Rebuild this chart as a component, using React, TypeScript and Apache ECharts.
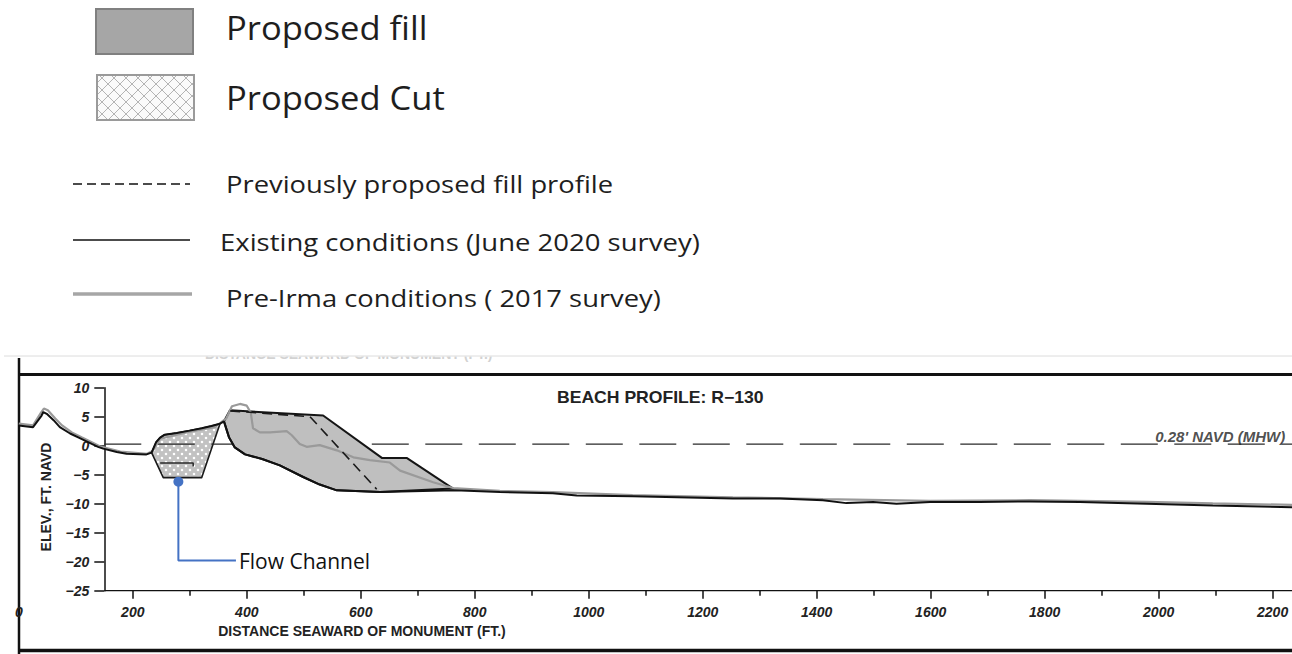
import { useEffect, useRef } from "react";
import * as echarts from "echarts";

// Beach profile R-130: distance seaward of monument (ft) vs elevation (ft NAVD)
const existing2020: [number, number][] = [
  [0, 3.5], [25, 3.2], [40, 5.2], [43, 5.8], [49, 5.5], [61, 4.4], [72, 3.2], [90, 2.1],
  [107, 1.3], [128, 0.3], [139, -0.2], [148, -0.5], [172, -1.1], [189, -1.4], [224, -1.5],
  [233, -1.2], [241, 0.6], [248, 1.4], [256, 1.9], [277, 2.2], [300, 2.6], [321, 3.0],
  [338, 3.4], [353, 3.8], [360, 4.2], [369, 1.4], [379, -0.3], [397, -1.5], [427, -2.3],
  [458, -3.4], [499, -5.4], [528, -6.7], [558, -7.7], [634, -8.0], [765, -7.7], [844, -8.0],
  [937, -8.2], [979, -8.6], [1077, -8.7], [1253, -9.1], [1336, -9.1], [1411, -9.4],
  [1452, -9.9], [1499, -9.7], [1540, -10.0], [1599, -9.7], [1686, -9.7], [1774, -9.6],
  [1862, -9.7], [1979, -10.0], [2095, -10.3], [2234, -10.6],
];

const preIrma2017: [number, number][] = [
  [0, 3.8], [25, 3.5], [39, 5.7], [44, 6.4], [51, 6.1], [64, 4.7], [76, 3.5], [93, 2.3],
  [111, 1.4], [128, 0.6], [142, -0.1], [178, -1.0], [225, -1.4], [235, -0.9], [248, 1.2],
  [300, 2.4], [344, 3.2], [364, 4.7], [374, 6.8], [388, 7.2], [400, 6.9], [407, 5.7],
  [411, 3.0], [423, 2.3], [441, 2.3], [470, 2.5], [479, 1.8], [493, 0.3], [505, -0.2],
  [528, 0.1], [558, -0.8], [587, -2.0], [616, -2.5], [651, -2.9], [669, -4.3], [727, -6.3],
  [762, -7.3], [844, -7.8], [937, -8.0], [1077, -8.5], [1253, -8.9], [1411, -9.2],
  [1599, -9.5], [1774, -9.4], [1979, -9.7], [2095, -9.95], [2234, -10.2],
];

const proposedFill: [number, number][] = [
  [360, 4.2], [370.5, 6.1], [534, 5.2], [637, -2.1], [680.5, -2.1], [762, -7.4], [634, -8.0],
  [558, -7.7], [528, -6.7], [499, -5.4], [458, -3.4], [427, -2.3], [397, -1.5], [379, -0.3],
  [369, 1.4],
];

const proposedCut: [number, number][] = [
  [233, -1.2], [241, 0.6], [248, 1.4], [256, 1.9], [277, 2.2], [300, 2.6], [321, 3.0],
  [338, 3.4], [353, 3.8], [321, -5.5], [253.5, -5.5],
];

const previousFill: [number, number][] = [[371, 6.0], [511, 5.0], [628, -7.5]];
const channelStep: [number, number][] = [[248, -3.0], [306, -3.0], [306, -3.6]];

const mhwLevel = 0.28;
const mhwStart = 150;
const mhwEnd = 2234;
const mhwLabelAt = 1994;
const mhwLabel = "0.28' NAVD (MHW)";

const flowChannel: [number, number][] = [[280, -6.2], [280, -19.8], [381, -19.8]];

const xMin = 0;
const xMax = 2234;
const yMin = -25;
const yMax = 10;
const yStep = 5;
const xMajorTicks = [200, 400, 600, 800, 1000, 1200, 1400, 1600, 1800, 2000, 2200];
const xMinorTicks = [300, 500, 700, 900, 1100, 1300, 1500, 1700, 1900, 2100];
const xTickLabels = [0, 200, 400, 600, 800, 1000, 1200, 1400, 1600, 1800, 2000, 2200];

const CAD_FONT = '"Liberation Sans", Arial, sans-serif';
const TEXT_FONT = '"Open Sans", "Noto Sans", sans-serif';

function dotPattern() {
  const c = document.createElement("canvas");
  c.width = 8;
  c.height = 8;
  const g = c.getContext("2d")!;
  g.fillStyle = "#c2c2c2";
  g.fillRect(0, 0, 8, 8);
  g.fillStyle = "#ffffff";
  g.beginPath();
  g.arc(2, 2, 1.3, 0, Math.PI * 2);
  g.arc(6, 6, 1.3, 0, Math.PI * 2);
  g.fill();
  return { image: c.toDataURL(), repeat: "repeat", imageWidth: 8, imageHeight: 8 };
}

function latticePattern() {
  const c = document.createElement("canvas");
  c.width = 12;
  c.height = 12;
  const g = c.getContext("2d")!;
  g.fillStyle = "#fafafa";
  g.fillRect(0, 0, 12, 12);
  g.strokeStyle = "#b4b4b4";
  g.lineWidth = 1;
  g.beginPath();
  g.moveTo(0, 0);
  g.lineTo(12, 12);
  g.moveTo(12, 0);
  g.lineTo(0, 12);
  g.stroke();
  return { image: c.toDataURL(), repeat: "repeat", imageWidth: 12, imageHeight: 12 };
}

function polygonSeries(name: string, pts: [number, number][], style: any, z: number) {
  return {
    type: "custom",
    name,
    coordinateSystem: "cartesian2d",
    silent: true,
    z,
    data: [pts[0]],
    renderItem: (_params: any, api: any) => ({
      type: "polygon",
      shape: { points: pts.map((p) => api.coord(p)) },
      style,
    }),
  };
}

function lineSeries(name: string, data: any[], lineStyle: any, z: number) {
  return {
    type: "line",
    name,
    data,
    z,
    silent: true,
    symbol: "none",
    showSymbol: false,
    lineStyle,
  };
}

const yLabel = (v: number) => (v < 0 ? "\u2212" + Math.abs(v) : String(v));

export default function App() {
  const ref = useRef<HTMLDivElement>(null);

  useEffect(() => {
    const chart = echarts.init(ref.current!, null, { renderer: "svg" });
    const cutFill = dotPattern();
    const cutKey = latticePattern();

    const axisLabelStyle = {
      fontFamily: CAD_FONT,
      fontStyle: "italic",
      fontWeight: "bold",
      fontSize: 14,
      color: "#222",
    };

    const legendText = (text: string, x: number, y: number, size: number, sx: number) => ({
      type: "text",
      x,
      y,
      scaleX: sx,
      style: { text, fontFamily: TEXT_FONT, fontSize: size, fill: "#1e1e1e", textVerticalAlign: "middle" },
    });

    chart.setOption({
      animation: false,
      backgroundColor: "#ffffff",
      grid: { left: 18.8, top: 387.7, width: 1273.4, height: 203 },
      xAxis: [
        {
          type: "value",
          min: xMin,
          max: xMax,
          position: "bottom",
          splitLine: { show: false },
          axisLine: { show: false, onZero: false },
          axisTick: {
            show: true,
            customValues: xMajorTicks,
            length: 8,
            lineStyle: { color: "#111", width: 1.5 },
          },
          axisLabel: {
            customValues: xTickLabels,
            margin: 14,
            formatter: (v: number) => String(v),
            ...axisLabelStyle,
          },
        },
        {
          type: "value",
          min: xMin,
          max: xMax,
          position: "bottom",
          splitLine: { show: false },
          axisLine: { show: false, onZero: false },
          axisLabel: { show: false },
          axisTick: {
            show: true,
            customValues: xMinorTicks,
            length: 5,
            lineStyle: { color: "#111", width: 1.5 },
          },
        },
      ],
      yAxis: {
        type: "value",
        min: yMin,
        max: yMax,
        interval: yStep,
        position: "left",
        offset: -85.5,
        splitLine: { show: false },
        axisLine: { show: true, onZero: false, lineStyle: { color: "#111", width: 1.5 } },
        axisTick: { show: true, length: 10, lineStyle: { color: "#111", width: 1.5 } },
        axisLabel: { margin: 15, formatter: yLabel, ...axisLabelStyle },
      },
      series: [
        polygonSeries("Proposed Cut", proposedCut, { fill: cutFill, stroke: "#1a1a1a", lineWidth: 1.6, lineJoin: "round" }, 1),
        lineSeries("MHW", [[mhwStart, mhwLevel], [mhwEnd, mhwLevel]], { color: "#2a2a2a", width: 1.4, type: [37, 16.5] }, 2),
        polygonSeries("Proposed fill", proposedFill, { fill: "#bfbfbf", stroke: "#151515", lineWidth: 2, lineJoin: "round" }, 3),
        lineSeries("Pre-Irma conditions ( 2017 survey)", preIrma2017, { color: "#9a9a9a", width: 2.2 }, 4),
        lineSeries("Existing conditions (June 2020 survey)", existing2020, { color: "#111", width: 2 }, 5),
        lineSeries("Previously proposed fill profile", previousFill, { color: "#1a1a1a", width: 1.6, type: [10, 6] }, 6),
        lineSeries("channel step", channelStep, { color: "#2a2a2a", width: 1.5 }, 6),
        lineSeries("x axis", [[150, yMin], [xMax, yMin]], { color: "#111", width: 1.5 }, 6),
        {
          type: "scatter",
          name: "MHW label",
          silent: true,
          z: 7,
          symbolSize: 0,
          data: [[mhwLabelAt, mhwLevel]],
          label: {
            show: true,
            formatter: mhwLabel,
            position: [0, 0],
            align: "left",
            verticalAlign: "bottom",
            offset: [0, 0],
            fontFamily: CAD_FONT,
            fontStyle: "italic",
            fontWeight: "bold",
            fontSize: 15,
            color: "#222",
          },
        },
        {
          type: "line",
          name: "Flow Channel",
          silent: true,
          z: 8,
          lineStyle: { color: "#4472c4", width: 2 },
          itemStyle: { color: "#4472c4" },
          showSymbol: true,
          data: [
            { value: flowChannel[0], symbol: "circle", symbolSize: 10 },
            { value: flowChannel[1], symbol: "none" },
            {
              value: flowChannel[2],
              symbol: "circle",
              symbolSize: 0,
              label: {
                show: true,
                position: "right",
                distance: 3,
                formatter: "Flow Channel",
                fontFamily: TEXT_FONT,
                fontSize: 21,
                color: "#111",
              },
            },
          ],
        },
      ],
      graphic: [
        // legend: areas
        { type: "rect", shape: { x: 96, y: 9, width: 97, height: 45 }, style: { fill: "#a6a6a6", stroke: "#808080", lineWidth: 2 } },
        legendText("Proposed fill", 226, 28, 32, 1.08),
        { type: "rect", shape: { x: 97, y: 75, width: 97, height: 45 }, style: { fill: cutKey, stroke: "#9a9a9a", lineWidth: 2 } },
        legendText("Proposed Cut", 226, 98, 32, 1.08),
        // legend: lines
        { type: "line", shape: { x1: 73, y1: 184, x2: 190, y2: 184 }, style: { stroke: "#111", lineWidth: 1.5, lineDash: [9, 5] } },
        legendText("Previously proposed fill profile", 226, 184, 23, 1.19),
        { type: "line", shape: { x1: 73, y1: 240, x2: 190, y2: 240 }, style: { stroke: "#111", lineWidth: 1.6 } },
        legendText("Existing conditions (June 2020 survey)", 220, 242, 23, 1.195),
        { type: "line", shape: { x1: 73, y1: 294, x2: 192, y2: 294 }, style: { stroke: "#a6a6a6", lineWidth: 3.5 } },
        legendText("Pre-Irma conditions ( 2017 survey)", 226, 298, 23, 1.19),
        // sheet header remnant and frame
        { type: "text", x: 205, y: 361, style: { text: "DISTANCE SEAWARD OF MONUMENT (FT.)", fontFamily: CAD_FONT, fontWeight: "bold", fontSize: 14, fill: "#d2d2d2", textVerticalAlign: "bottom" } },
        { type: "rect", shape: { x: 0, y: 330, width: 1292, height: 26.5 }, style: { fill: "#ffffff" } },
        { type: "line", shape: { x1: 4, y1: 356, x2: 1292, y2: 356 }, style: { stroke: "#dcdcdc", lineWidth: 1 } },
        { type: "line", shape: { x1: 19, y1: 358, x2: 19, y2: 654 }, style: { stroke: "#111", lineWidth: 2.5 } },
        { type: "line", shape: { x1: 19, y1: 374.5, x2: 1292, y2: 374.5 }, style: { stroke: "#111", lineWidth: 3 } },
        { type: "line", shape: { x1: 19, y1: 650.5, x2: 1292, y2: 650.5 }, style: { stroke: "#111", lineWidth: 3.5 } },
        // titles
        { type: "text", x: 557, y: 398, scaleX: 1.1, style: { text: "BEACH PROFILE: R\u2212130", fontFamily: CAD_FONT, fontWeight: "bold", fontSize: 16, fill: "#222", textVerticalAlign: "middle" } },
        { type: "text", x: 362, y: 631, style: { text: "DISTANCE SEAWARD OF MONUMENT (FT.)", fontFamily: CAD_FONT, fontWeight: "bold", fontSize: 14, fill: "#222", textAlign: "center", textVerticalAlign: "middle" } },
        { type: "text", x: 46, y: 497, rotation: Math.PI / 2, style: { text: "ELEV., FT. NAVD", fontFamily: CAD_FONT, fontWeight: "bold", fontSize: 14, fill: "#222", textAlign: "center", textVerticalAlign: "middle" } },
      ],
    });

    return () => chart.dispose();
  }, []);

  return (
    <div
      ref={ref}
      style={{ position: "fixed", left: 0, top: 0, width: 1292, height: 654, background: "#ffffff" }}
    />
  );
}
